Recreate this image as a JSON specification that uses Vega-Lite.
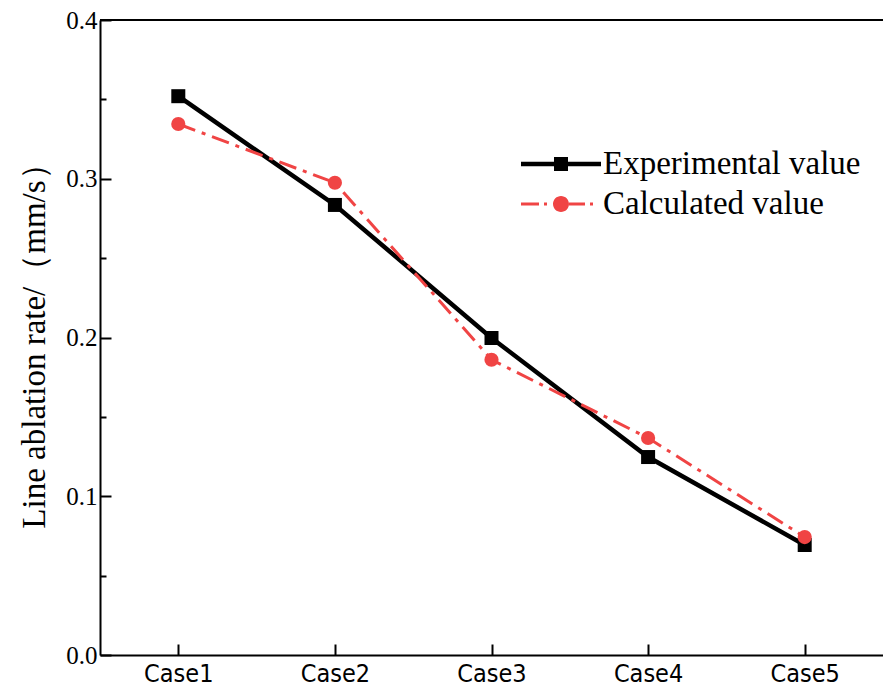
{
  "$schema": "https://vega.github.io/schema/vega-lite/v6.json",
  "width": 783,
  "height": 635,
  "autosize": "none",
  "padding": {"left": 100, "top": 20, "right": 0, "bottom": 44},
  "background": "white",
  "config": {
    "view": {"stroke": null},
    "axis": {"grid": false, "domainColor": "black", "tickColor": "black", "domainWidth": 2, "tickWidth": 2, "labelColor": "black", "titleColor": "black"}
  },
  "data": {
    "values": [
      {"case": "Case1", "series": "Experimental value", "value": 0.352},
      {"case": "Case2", "series": "Experimental value", "value": 0.2835},
      {"case": "Case3", "series": "Experimental value", "value": 0.1997},
      {"case": "Case4", "series": "Experimental value", "value": 0.1247},
      {"case": "Case5", "series": "Experimental value", "value": 0.0693},
      {"case": "Case1", "series": "Calculated value", "value": 0.3345},
      {"case": "Case2", "series": "Calculated value", "value": 0.2975},
      {"case": "Case3", "series": "Calculated value", "value": 0.186},
      {"case": "Case4", "series": "Calculated value", "value": 0.1367},
      {"case": "Case5", "series": "Calculated value", "value": 0.0743}
    ]
  },
  "encoding": {
    "x": {"field": "case", "type": "ordinal", "scale": {"type": "point", "padding": 0.5},
      "axis": {"title": null, "labelAngle": 0, "tickSize": -11, "labelPadding": 17, "labelFont": "DejaVu Sans Condensed", "labelFontSize": 25, "labelBaseline": "top"}},
    "y": {"field": "value", "type": "quantitative", "scale": {"domain": [0, 0.4], "nice": false, "zero": true},
      "axis": {"values": [0, 0.05, 0.1, 0.15, 0.2, 0.25, 0.3, 0.35, 0.4],
        "labelExpr": "round(datum.value * 20) % 2 == 0 ? format(datum.value, '.1f') : ''",
        "tickSize": {"condition": {"test": "round(datum.value * 20) % 2 == 0", "value": -11}, "value": -6},
        "labelPadding": 14, "labelFont": "Liberation Serif", "labelFontSize": 25, "labelColor": "black",
        "title": "Line ablation rate/（mm/s）", "titleFont": "Liberation Serif", "titleFontSize": 33, "titleFontWeight": "normal", "titlePadding": 14}}
  },
  "layer": [
    {
      "transform": [{"filter": "datum.series === 'Experimental value'"}],
      "mark": {"type": "line", "color": "#000000", "strokeWidth": 4.5}
    },
    {
      "transform": [{"filter": "datum.series === 'Calculated value'"}],
      "mark": {"type": "line", "color": "#F04444", "strokeWidth": 3, "strokeDash": [18, 7, 4, 7]}
    },
    {
      "transform": [{"filter": "datum.series === 'Experimental value'"}],
      "mark": {"type": "point", "shape": "square", "filled": true, "opacity": 1, "size": 196, "color": "#000000"}
    },
    {
      "transform": [{"filter": "datum.series === 'Calculated value'"}],
      "mark": {"type": "point", "shape": "circle", "filled": true, "opacity": 1, "size": 201, "color": "#F04444"}
    },
    {
      "transform": [{"filter": "datum.series === 'Experimental value'"}],
      "mark": {"type": "point", "filled": true, "opacity": 0, "size": 10},
      "encoding": {
        "color": {"field": "series", "type": "nominal", "scale": {"range": ["#000000"]},
          "legend": {"title": null, "orient": "none", "legendX": 441, "legendY": 124, "padding": 0, "symbolSize": 1600, "symbolStrokeWidth": 0, "symbolOpacity": 1,
            "symbolType": "M-2,-0.11H2V0.11H-2Z M-0.35,-0.35H0.35V0.35H-0.35Z",
            "labelOffset": 22, "labelFont": "Liberation Serif", "labelFontSize": 33, "labelColor": "black", "labelLimit": 400}}
      }
    },
    {
      "transform": [{"filter": "datum.series === 'Calculated value'"}],
      "mark": {"type": "point", "filled": true, "opacity": 0, "size": 10},
      "encoding": {
        "color": {"field": "series", "type": "nominal", "scale": {"range": ["#F04444"]},
          "legend": {"title": null, "orient": "none", "legendX": 441, "legendY": 164, "padding": 0, "symbolSize": 1600, "symbolStrokeWidth": 0, "symbolOpacity": 1,
            "symbolType": "M-2,-0.08H-1.1V0.08H-2Z M-0.85,-0.08H-0.7V0.08H-0.85Z M-0.4,0A0.4,0.4 0 1,0 0.4,0A0.4,0.4 0 1,0 -0.4,0Z M0.4,-0.08H1.2V0.08H0.4Z M1.45,-0.08H1.6V0.08H1.45Z",
            "labelOffset": 22, "labelFont": "Liberation Serif", "labelFontSize": 33, "labelColor": "black", "labelLimit": 400}}
      }
    },
    {
      "mark": {"type": "rule", "color": "black", "strokeWidth": 2},
      "encoding": {
        "x": null,
        "y": {"datum": 0.4, "type": "quantitative"}
      }
    }
  ],
  "resolve": {"scale": {"color": "independent"}, "legend": {"color": "independent"}}
}
